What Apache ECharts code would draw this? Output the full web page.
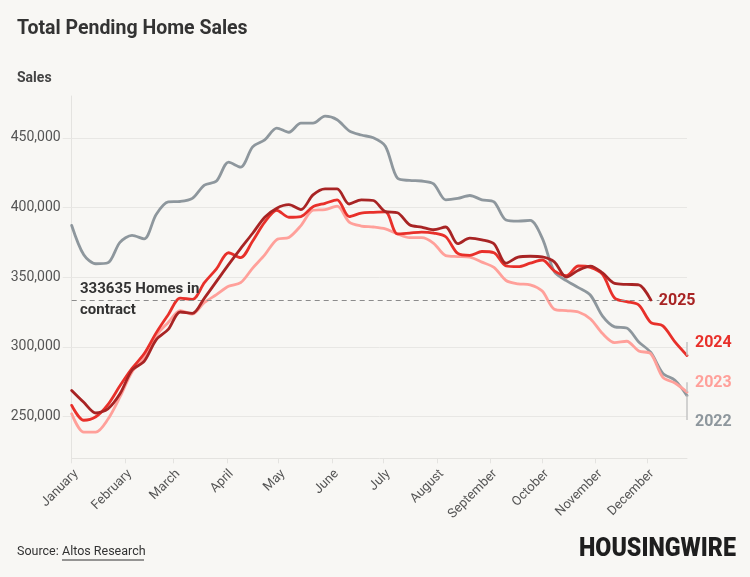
<!DOCTYPE html>
<html>
<head>
<meta charset="utf-8">
<script src="https://cdn.jsdelivr.net/npm/echarts@6/dist/echarts.min.js"></script>
<style>
html,body{margin:0;padding:0;background:#f8f7f4;}
#c{width:750px;height:577px;}
</style>
</head>
<body>
<div id="c"></div>
<script>
// ---- data ----
const months = ['January','February','March','April','May','June','July','August','September','October','November','December'];
const monthStartDays = [0,31,59,90,120,151,181,212,243,273,304,334];
const yTicks = [250000,300000,350000,400000,450000];
const contractLine = 333635;

const sales2022 = [387100,366000,359600,360300,375000,380000,377500,395000,404000,404300,
  406500,416000,419000,432500,429000,443500,448500,457000,454000,460500,
  460500,465500,463000,455000,452000,450000,444000,421000,419400,419000,
  417000,405500,406500,408600,405500,404000,391000,390200,390700,378000,
  354000,347500,342500,337000,322000,314300,313500,303500,296000,281000,
  276000,265000];
const sales2023 = [252000,238800,238800,248000,264000,282000,292000,308000,317500,326000,
  323500,331800,337500,343500,346000,356500,366000,377000,378500,387000,
  398000,398500,401000,389500,386700,386000,384600,381000,378300,378300,
  374300,365500,364800,364300,360800,357000,347600,345200,344500,340000,
  327000,326000,325000,320000,309500,303000,304000,297000,295000,278000,
  274000,267500];
const sales2024 = [258000,247300,249800,258500,272000,284500,295000,310000,323000,335000,
  334000,346000,356000,367500,364000,376000,389500,398000,393000,393500,
  400500,403000,405500,393500,396000,396500,396800,381000,381600,382300,
  381600,379000,367000,365600,368400,367500,358000,357500,360000,362300,
  354500,351000,358000,357000,352000,335000,332400,330000,317500,315000,
  303500,293800];
const sales2025 = [268700,260200,252500,255500,266300,283200,289500,305000,312500,325000,
  324000,335000,347000,359000,370500,381500,393000,399500,402000,398500,
  409000,413400,413300,402500,405500,405000,397000,396200,387600,385900,
  384000,386000,374000,378000,376800,374000,360000,364400,365000,364500,
  361000,350000,355000,357900,353000,345500,344800,344500,333635];

// ---- chart ----
const FONT = 'Roboto, "Noto Sans", sans-serif';
const DAYS_PER_WEEK = 7;
const X_MAX = 357;
const toPoints = vals => vals.map((v, i) => [i * DAYS_PER_WEEK, v]);

function lineSeries(name, vals, color, z, labelDy, connectorTo) {
  const s = {
    name: name,
    type: 'line',
    data: toPoints(vals),
    showSymbol: false,
    symbol: 'none',
    smooth: 0.3,
    z: z,
    lineStyle: { color: color, width: 2.8, cap: 'round', join: 'round' },
    itemStyle: { color: color },
    emphasis: { disabled: true },
    endLabel: {
      show: true,
      formatter: name,
      color: color,
      fontFamily: FONT,
      fontWeight: 'bold',
      fontSize: 16,
      distance: 8,
      offset: [0, labelDy]
    }
  };
  if (connectorTo !== null) {
    const last = vals[vals.length - 1];
    s.markLine = {
      silent: true,
      symbol: ['none', 'none'],
      animation: false,
      label: { show: false },
      lineStyle: { color: '#c4c4c4', width: 1.5, type: 'solid' },
      data: [[{ coord: [X_MAX, last] }, { coord: [X_MAX, connectorTo] }]]
    };
  }
  return s;
}

const s2022 = lineSeries('2022', sales2022, '#8e979d', 2, 26, 247500);
const s2023 = lineSeries('2023', sales2023, '#ffa09a', 3, -9, 274500);
const s2024 = lineSeries('2024', sales2024, '#e8302a', 4, -12, 303500);
const s2025 = lineSeries('2025', sales2025, '#a82424', 5, 1, null);
s2025.markLine = {
  silent: true,
  symbol: ['none', 'none'],
  animation: false,
  label: { show: false },
  lineStyle: { color: '#8c8c8c', width: 1.2, type: [5, 4] },
  data: [[{ coord: [0, contractLine] }, { coord: [341, contractLine] }]]
};

const chart = echarts.init(document.getElementById('c'), null, { renderer: 'canvas' });
chart.setOption({
  animation: false,
  backgroundColor: '#f8f7f4',
  title: [
    { text: 'Total Pending Home Sales', left: 12, top: 14,
      textStyle: { fontFamily: FONT, fontSize: 19.5, fontWeight: 'bold', color: '#333333' } },
    { text: 'Sales', left: 12, top: 66,
      textStyle: { fontFamily: FONT, fontSize: 14, fontWeight: 'bold', color: '#444444' } }
  ],
  grid: { left: 71.7, right: 63, top: 96, bottom: 118.7, containLabel: false },
  xAxis: {
    type: 'value',
    min: 0,
    max: X_MAX,
    axisLine: { show: true, lineStyle: { color: '#e4e3e0', width: 1 } },
    axisTick: { show: true, length: 5, lineStyle: { color: '#e4e3e0' }, customValues: monthStartDays },
    axisLabel: {
      customValues: monthStartDays,
      rotate: 45,
      margin: 9,
      verticalAlign: 'top',
      color: '#555555',
      fontFamily: FONT,
      fontSize: 13,
      formatter: v => months[monthStartDays.indexOf(v)] || ''
    },
    splitLine: { show: false }
  },
  yAxis: {
    type: 'value',
    min: 220000,
    max: 480000,
    axisLine: { show: true, lineStyle: { color: '#e4e3e0', width: 1 } },
    axisTick: { show: true, length: 9, lineStyle: { color: '#e8e7e4' }, customValues: yTicks },
    axisLabel: {
      customValues: yTicks,
      margin: 11,
      color: '#555555',
      fontFamily: FONT,
      fontSize: 14,
      formatter: v => v.toLocaleString('en-US')
    },
    splitLine: { show: true, lineStyle: { color: '#e8e7e4', width: 1 } }
  },
  series: [s2022, s2023, s2024, s2025],
  graphic: [
    { type: 'text', left: 80, top: 279, z: 10,
      style: { text: contractLine + ' Homes in\ncontract', fontFamily: FONT, fontWeight: 'bold',
               fontSize: 15, lineHeight: 21, fill: '#333333' } },
    { type: 'text', left: 17, top: 545,
      style: { text: 'Source: ', fontFamily: FONT, fontSize: 12.5, fill: '#333333' } },
    { type: 'text', left: 62, top: 545,
      style: { text: 'Altos Research', fontFamily: FONT, fontSize: 12.5, fill: '#333333' } },
    { type: 'line', shape: { x1: 62, y1: 560, x2: 144, y2: 560 },
      style: { stroke: '#333333', lineWidth: 1 } },
    { type: 'text', x: 736, y: 550, scaleX: 0.93,
      style: { text: 'HOUSINGWIRE', fontFamily: FONT, fontWeight: 900, fontSize: 25,
               fill: '#1e1e1e', align: 'right', verticalAlign: 'middle' } }
  ]
});
</script>
</body>
</html>
